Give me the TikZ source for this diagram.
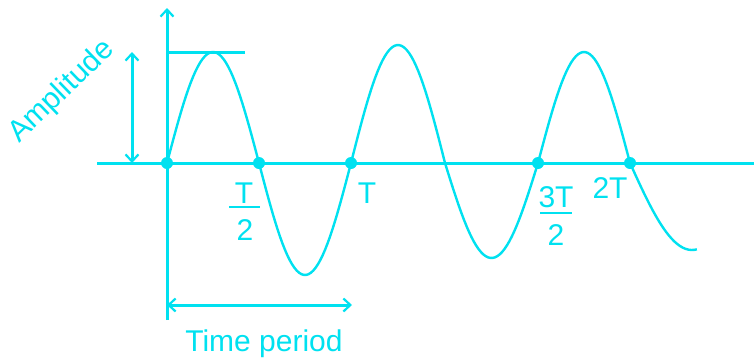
\documentclass[tikz,border=0pt]{standalone}
\usepackage{fontspec}
\setmainfont{Liberation Sans}
\usetikzlibrary{arrows.meta}
\definecolor{cy}{RGB}{0,225,240}
\begin{document}
\begin{tikzpicture}[x=1pt,y=-1pt,
  axis/.style={draw=cy,line width=3pt},
  wave/.style={draw=cy,line width=2.4pt,line join=round},
  barb/.tip={Straight Barb[length=7pt,width=13pt,line width=2.2pt]},
  lbl/.style={text=cy,font=\fontsize{30}{36}\selectfont,inner sep=0pt,anchor=base},
  dot/.style={circle,fill=cy,inner sep=0pt,minimum size=12pt},
  fbar/.style={draw=cy,line width=2.6pt}]
\useasboundingbox (0,0) rectangle (754,362);
% key points
\coordinate (xl) at (97,163);
\coordinate (xr) at (754,163);
\coordinate (yb) at (167,320);
\coordinate (yt) at (167,8);
\coordinate (pk) at (167,52);
\coordinate (pkr) at (245,52);
\coordinate (at) at (132,52);
\coordinate (ab) at (132,163);
\coordinate (tl) at (167,305);
\coordinate (tr) at (352,305);
% axes
\draw[axis] (xl) -- (xr);
\draw[axis,-barb] (yb) -- (yt);
\draw[axis] (pk) -- (pkr);
% amplitude and period arrows
\draw[axis,barb-barb] (at) -- (ab);
\draw[axis,barb-barb] (tl) -- (tr);
% wave
\draw[wave]
  plot[domain=0:180,samples=40] ({167+\x/180*92},{163-111*sin(\x)})
  -- plot[domain=0:180,samples=40] ({259+\x/180*92},{163+112*sin(\x)})
  -- plot[domain=0:180,samples=40] ({351+\x/180*94},{163-118*sin(\x)})
  -- plot[domain=0:180,samples=40] ({445+\x/180*93},{163+95*sin(\x)})
  -- plot[domain=0:180,samples=40] ({538+\x/180*92},{163-111*sin(\x)})
  -- plot[domain=0:97,samples=25] ({630+\x/180*124},{163+87*sin(\x)});
% dots
\node[dot] (d0) at (167,163) {};
\node[dot] (d1) at (259,163) {};
\node[dot] (d2) at (351,163) {};
\node[dot] (d3) at (538,163) {};
\node[dot] (d4) at (630,163) {};
% labels
\node[lbl] (n1) at (244,203) {T};
\draw[fbar] (229,207) coordinate (b1l) -- (260,207) coordinate (b1r);
\node[lbl] (m1) at (245,240) {2};
\node[lbl] (lt) at (367,203) {T};
\node[lbl] (n3) at (556,207) {3T};
\draw[fbar] (540,213) coordinate (b3l) -- (572,213) coordinate (b3r);
\node[lbl] (m3) at (556,245) {2};
\node[lbl] (l2t) at (610,198) {2T};
\node[lbl] (tp) at (264,351) {Time period};
\node[lbl,anchor=base west,rotate=44] (amp) at (19,144) {Amplitude};
\end{tikzpicture}
\end{document}
